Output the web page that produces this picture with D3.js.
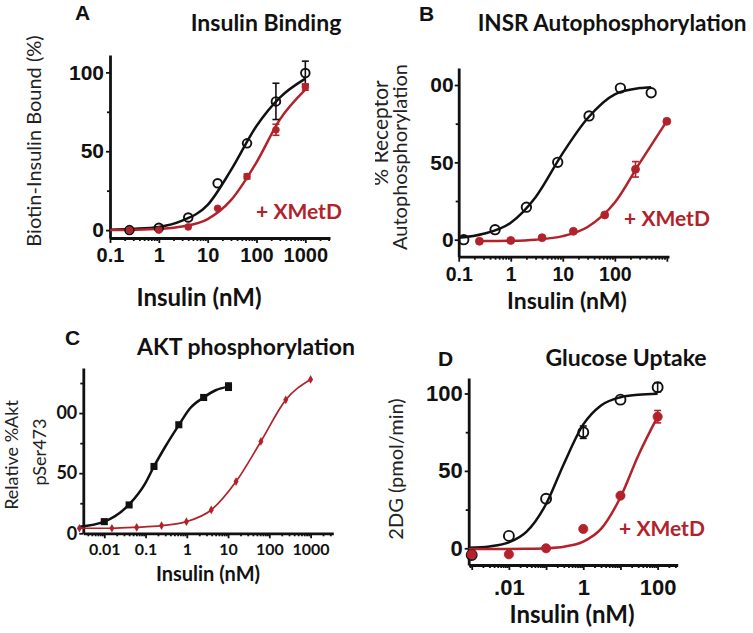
<!DOCTYPE html>
<html lang="en">
<head>
<meta charset="UTF-8">
<title>Insulin response panels</title>
<script src="https://cdnjs.cloudflare.com/ajax/libs/d3/7.8.5/d3.min.js"></script>
<style>
  body { margin: 0; background: #fff; }
  svg { display: block; }
  .tick text { font-family: "Liberation Sans", Arial, sans-serif; font-weight: bold; fill: #111; }
  .ttl { font-family: Lato, "Open Sans", sans-serif; font-weight: bold; fill: #111; }
  .ylab { font-family: Lato, "Open Sans", sans-serif; fill: #222; }
  .letter { font-family: "Liberation Sans", Arial, sans-serif; font-weight: bold; fill: #111; }
</style>
</head>
<body>
<svg id="fig" width="753" height="633"></svg>
<script>
// A - insulin binding
const aDose     = [0.25, 1, 4, 16, 64, 250, 1000];
const aCtrl     = [0, 1.5, 8, 29.7, 55, 81.6, 99.6];
const aCtrlErr  = [0, 0, 0, 0, 0, 11.5, 7.5];
const aXmet     = [0, 0, 2, 13.8, 34, 63.6, 90.7];
const aXmetErr  = [0, 0, 0, 0, 1.5, 3.5, 2];
const aFitDose  = [0.1, 0.3, 1, 3, 10, 30, 100, 300, 1000];
const aCtrlFit  = [0.3, 0.8, 2, 6, 16, 38, 66, 84, 96];
const aXmetFit  = [0.1, 0.25, 0.8, 2.3, 7, 19, 43, 70, 89];

// B - INSR autophosphorylation
const bCtrlDose = [0.125, 0.5, 2, 8, 32, 128, 500];
const bCtrl     = [0, 6.5, 21, 50, 80, 98, 95];
const bXmetDose = [0.25, 1, 4, 16, 64, 250, 1000];
const bXmet     = [-1, -0.5, 1.3, 5.4, 16, 45.5, 76.5];
const bXmetErr  = [0, 0, 0, 0, 0, 5, 0];
const bCtrlFitDose = [0.1, 0.3, 1, 3, 10, 30, 100, 300, 500];
const bCtrlFit     = [1.2, 3.8, 11, 27.5, 56, 78.5, 94, 98, 98.6];
const bXmetFitDose = [0.25, 1, 3, 10, 30, 100, 300, 1000];
const bXmetFit     = [-0.9, -0.7, 0, 2.3, 8.2, 24, 49.5, 76.7];

// C - AKT phosphorylation
const cCtrlDose = [0.01, 0.04, 0.16, 0.64, 2.56, 10.24];
const cCtrl     = [9.7, 23.6, 55.6, 90.3, 113, 122];
const cCtrlErr  = [0, 0, 0, 0, 0, 3];
const cXmetDose = [0.0025, 0.0153, 0.061, 0.244, 0.977, 3.91, 15.6, 62.5, 250, 1000];
const cXmet     = [4.2, 4.2, 5, 6.4, 9.7, 19.4, 43, 76.4, 111, 128];
const cCtrlFitDose = [0.0025, 0.01, 0.04, 0.1, 0.16, 0.3, 0.64, 1.2, 2.56, 5, 10.24];
const cCtrlFit     = [5.5, 9.7, 24, 42, 55.6, 72, 90, 104, 113, 119, 122];

// D - glucose uptake
const dDose     = [0.001, 0.01, 0.1, 1, 10, 100];
const dCtrl     = [-4.3, 8, 32, 75, 96, 104];
const dCtrlErr  = [0, 0, 0, 4, 0, 3];
const dXmet     = [-4, -3.9, 0, 12.5, 34, 85];
const dXmetErr  = [0, 0, 0, 0, 0, 4];
const dFitDose  = [0.00083, 0.003, 0.01, 0.03, 0.1, 0.3, 1, 3, 10, 30, 100];
const dCtrlFit  = [0.3, 1.2, 3.8, 10.7, 28.6, 54.5, 80, 92.3, 97.6, 99.2, 99.8];
const dXmetFit  = [-0.5, -0.5, -0.45, -0.35, 0, 1, 4.3, 12.5, 33, 59.8, 85];

// tick values / labels
const aXTicks = [0.1, 1, 10, 100, 1000];
const aXLabels = ['0.1', '1', '10', '100', '1000'];
const bXTicks = [0.1, 1, 10, 100, 1000];
const bXLabels = ['0.1', '1', '10', '100', ''];
const cXTicks = [0.01, 0.1, 1, 10, 100, 1000];
const cXLabels = ['0.01', '0.1', '1', '10', '100', '1000'];
const dXTicks = [0.001, 0.01, 0.1, 1, 10, 100];
const dXLabels = ['', '.01', '', '1', '', '100'];
const yTicks = [0, 50, 100];
const yLabelsFull = ['0', '50', '100'];
const yLabelsCut = ['0', '50', '00'];

const RED = '#b3222a';
const svg = d3.select('#fig');
svg.append('rect').attr('width', 753).attr('height', 633).attr('fill', '#fff');

function pairs(xs, ys) { return xs.map((v, i) => [v, ys[i]]); }

function drawPanel(p) {
  const g = svg.append('g');
  if (p.clipX != null) {
    const id = 'clip' + p.letter;
    svg.append('clipPath').attr('id', id)
      .append('rect').attr('x', p.clipX).attr('y', 0).attr('width', 753).attr('height', 633);
    g.attr('clip-path', `url(#${id})`);
  }
  const x = d3.scaleLog().domain(p.xDomain).range(p.xRange);
  const y = d3.scaleLinear().domain(p.yDomain).range(p.yRange);
  const x0 = p.xRange[0], y0 = p.yRange[0];

  // minor ticks first
  const minorX = x.ticks().filter(v => !p.xTicks.some(m => Math.abs(m - v) < v * 1e-6));
  g.append('g').attr('transform', `translate(0,${y0})`)
    .call(d3.axisBottom(x).tickValues(minorX).tickSize(3).tickFormat(''))
    .call(a => a.select('.domain').remove());
  g.append('g').attr('transform', `translate(${x0},0)`)
    .call(d3.axisLeft(y).tickValues(p.yMinor).tickSize(3).tickFormat(''))
    .call(a => a.select('.domain').remove());

  const xa = g.append('g').attr('transform', `translate(0,${y0})`)
    .call(d3.axisBottom(x).tickValues(p.xTicks).tickSize(5).tickSizeOuter(0)
      .tickPadding(p.xPad).tickFormat((d, i) => p.xLabels[i]));
  xa.selectAll('text').style('font-size', p.xFont + 'px').style('font-family', p.tickFamily);
  const ya = g.append('g').attr('transform', `translate(${x0},0)`)
    .call(d3.axisLeft(y).tickValues(yTicks).tickSize(4).tickSizeOuter(0)
      .tickPadding(p.yPad).tickFormat((d, i) => p.yLabels[i]));
  ya.selectAll('text').style('font-size', p.yFont + 'px').style('font-family', p.tickFamily);
  g.selectAll('.domain').attr('stroke', '#111').attr('stroke-width', 2.8);
  g.selectAll('.tick line').attr('stroke', '#111').attr('stroke-width', 1.8);

  const line = d3.line().x(d => x(d[0])).y(d => y(d[1])).curve(d3.curveMonotoneX);
  p.fits.forEach(f => {
    g.append('path').attr('d', line(f.pts)).attr('fill', 'none')
      .attr('stroke', f.color).attr('stroke-width', f.width || 2.5);
  });

  p.series.forEach(s => {
    const pts = pairs(s.dose, s.vals).map((d, i) => ({ x: d[0], y: d[1], e: s.err ? s.err[i] : 0 }));
    const eb = g.append('g').attr('stroke', s.color).attr('stroke-width', 1.6);
    pts.filter(d => d.e > 0).forEach(d => {
      eb.append('line').attr('x1', x(d.x)).attr('x2', x(d.x)).attr('y1', y(d.y - d.e)).attr('y2', y(d.y + d.e));
      [d.y - d.e, d.y + d.e].forEach(v => eb.append('line')
        .attr('x1', x(d.x) - 3.5).attr('x2', x(d.x) + 3.5).attr('y1', y(v)).attr('y2', y(v)));
    });
    if (s.shape === 'square' || s.shape === 'diamond') {
      const sym = s.shape === 'square' ? d3.symbolSquare : d3.symbolDiamond;
      g.append('g').selectAll('path').data(pts).join('path')
        .attr('transform', d => `translate(${x(d.x)},${y(d.y)})`)
        .attr('d', d3.symbol(sym, s.size))
        .attr('fill', s.color);
    } else {
      g.append('g').selectAll('circle').data(pts).join('circle')
        .attr('cx', d => x(d.x)).attr('cy', d => y(d.y)).attr('r', s.r)
        .attr('fill', s.shape === 'open' ? '#fff' : s.color)
        .attr('fill-opacity', s.shape === 'open' ? 0 : 1)
        .attr('stroke', s.color).attr('stroke-width', s.shape === 'open' ? 1.9 : 0.8);
    }
  });

  // texts
  g.append('text').attr('class', 'letter').attr('x', p.letterPos[0]).attr('y', p.letterPos[1])
    .style('font-size', '21px').text(p.letter);
  g.append('text').attr('class', 'ttl').attr('x', p.titlePos[0]).attr('y', p.titlePos[1])
    .attr('text-anchor', 'middle').style('font-size', p.titleFont + 'px').text(p.title);
  g.append('text').attr('class', 'ttl').attr('x', p.xTitlePos[0]).attr('y', p.xTitlePos[1])
    .attr('text-anchor', 'middle').style('font-size', p.xTitleFont + 'px').text('Insulin (nM)');
  p.yTitle.forEach(t => {
    g.append('text').attr('class', 'ylab')
      .attr('transform', `translate(${t.x},${t.y}) rotate(-90)`)
      .attr('text-anchor', 'middle').attr('dy', '0.35em')
      .style('font-size', t.size + 'px').text(t.text);
  });
  if (p.legendPos) {
    g.append('text').attr('class', 'ttl').attr('x', p.legendPos[0]).attr('y', p.legendPos[1])
      .attr('text-anchor', 'middle').style('font-size', '21px').style('fill', RED).text('+ XMetD');
  }
}

const LIB = '"Liberation Sans", Arial, sans-serif';
const LATO = 'Lato, "Open Sans", sans-serif';

drawPanel({
  letter: 'A', letterPos: [75, 20], title: 'Insulin Binding', titlePos: [266, 31], titleFont: 23,
  xDomain: [0.1, 3200], xRange: [110, 330], yDomain: [-5, 111], yRange: [238, 55],
  xTicks: aXTicks, xLabels: aXLabels, yLabels: yLabelsFull, yMinor: [25, 75],
  xFont: 20, yFont: 21, xPad: 5, yPad: 2, tickFamily: LIB,
  xTitlePos: [199, 306], xTitleFont: 24,
  yTitle: [{ text: 'Biotin-Insulin Bound (%)', x: 34, y: 141, size: 20 }],
  legendPos: [299, 219],
  fits: [{ pts: pairs(aFitDose, aCtrlFit), color: '#111' }, { pts: pairs(aFitDose, aXmetFit), color: RED }],
  series: [
    { dose: aDose, vals: aCtrl, err: aCtrlErr, color: '#111', shape: 'open', r: 4.3 },
    { dose: aDose, vals: aXmet, err: aXmetErr, color: RED, shape: 'filled', r: 3.4 }
  ]
});

drawPanel({
  letter: 'B', letterPos: [419, 21], title: 'INSR Autophosphorylation', titlePos: [612, 31], titleFont: 22.5,
  xDomain: [0.1, 1100], xRange: [458.7, 669], yDomain: [-11, 111], yRange: [256.7, 68],
  xTicks: bXTicks, xLabels: bXLabels, yLabels: yLabelsCut, yMinor: [25, 75],
  xFont: 19.5, yFont: 21, xPad: 5, yPad: 1, tickFamily: LIB, clipX: 375,
  xTitlePos: [567, 309], xTitleFont: 23,
  yTitle: [{ text: '% Receptor', x: 381, y: 133, size: 21 },
           { text: 'Autophosphorylation', x: 400, y: 157, size: 20 }],
  legendPos: [667, 226],
  fits: [{ pts: pairs(bCtrlFitDose, bCtrlFit), color: '#111' }, { pts: pairs(bXmetFitDose, bXmetFit), color: RED }],
  series: [
    { dose: bCtrlDose, vals: bCtrl, color: '#111', shape: 'open', r: 4.7 },
    { dose: bXmetDose, vals: bXmet, err: bXmetErr, color: RED, shape: 'filled', r: 4 }
  ]
});

drawPanel({
  letter: 'C', letterPos: [65, 345], title: 'AKT phosphorylation', titlePos: [246, 355], titleFont: 23,
  xDomain: [0.0031, 3550], xRange: [83.3, 333.3], yDomain: [0, 137.5], yRange: [533.3, 368],
  xTicks: cXTicks, xLabels: cXLabels, yLabels: yLabelsCut, yMinor: [25, 75, 125],
  xFont: 16, yFont: 18, xPad: 5, yPad: 2, tickFamily: LATO,
  xTitlePos: [208, 581], xTitleFont: 20,
  yTitle: [{ text: 'Relative %Akt', x: 12, y: 455, size: 18 },
           { text: 'pSer473', x: 40, y: 452, size: 18 }],
  fits: [{ pts: pairs(cCtrlFitDose, cCtrlFit), color: '#111' }, { pts: pairs(cXmetDose, cXmet), color: RED, width: 1.7 }],
  series: [
    { dose: cCtrlDose, vals: cCtrl, err: cCtrlErr, color: '#111', shape: 'square', size: 50 },
    { dose: cXmetDose, vals: cXmet, color: RED, shape: 'diamond', size: 22 }
  ]
});

drawPanel({
  letter: 'D', letterPos: [438, 366], title: 'Glucose Uptake', titlePos: [626, 366], titleFont: 23,
  xDomain: [0.00083, 346], xRange: [468.7, 677.7], yDomain: [-10.8, 110], yRange: [565, 378],
  xTicks: dXTicks, xLabels: dXLabels, yLabels: yLabelsFull, yMinor: [25, 75],
  xFont: 22, yFont: 22, xPad: 9, yPad: 2, tickFamily: LIB,
  xTitlePos: [572, 623], xTitleFont: 24,
  yTitle: [{ text: '2DG (pmol/min)', x: 396, y: 469, size: 20 }],
  legendPos: [662, 536],
  fits: [{ pts: pairs(dFitDose, dCtrlFit), color: '#111' }, { pts: pairs(dFitDose, dXmetFit), color: RED }],
  series: [
    { dose: dDose, vals: dCtrl, err: dCtrlErr, color: '#111', shape: 'open', r: 5 },
    { dose: dDose, vals: dXmet, err: dXmetErr, color: RED, shape: 'filled', r: 4.6 }
  ]
});
</script>
</body>
</html>
